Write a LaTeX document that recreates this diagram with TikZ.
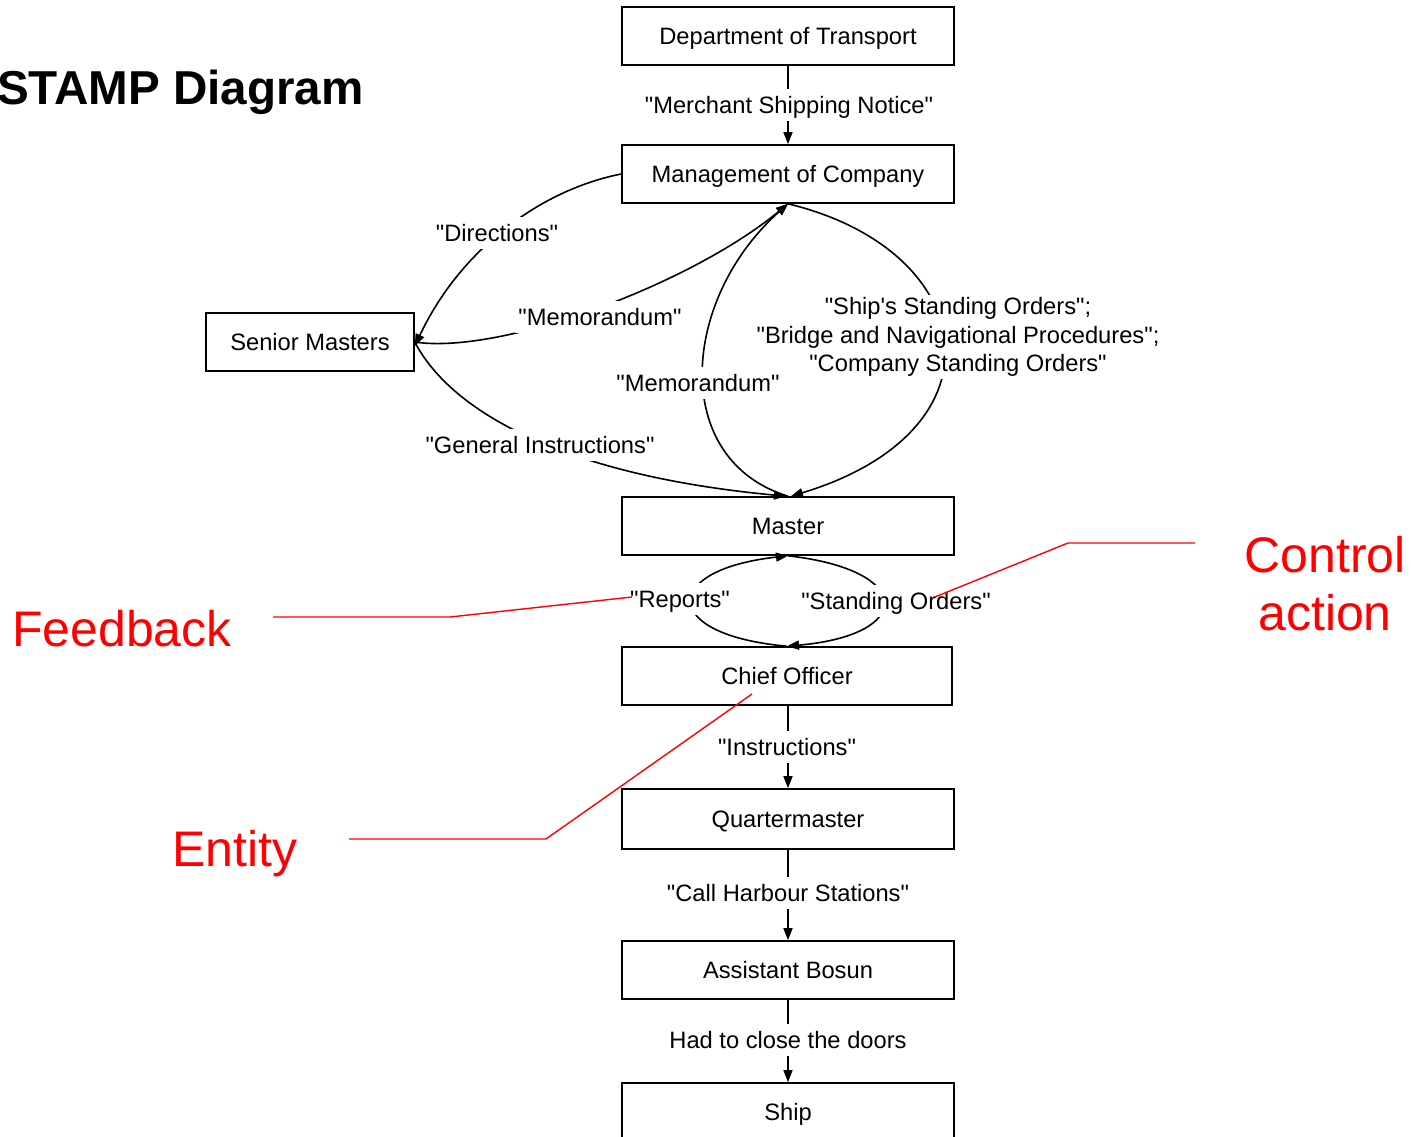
\documentclass[tikz,border=0pt]{standalone}
\usepackage{fontspec}
\newfontfamily\arial{Liberation Sans}
\usetikzlibrary{arrows.meta}
\begin{document}
\begin{tikzpicture}[x=1pt,y=-1pt,
  box/.style={draw, line width=1.6pt, minimum width=332pt, minimum height=58pt, inner sep=0pt,
    font=\arial\fontsize{23.7}{28}\selectfont, text height=21pt, text depth=4.5pt},
  lbl/.style={fill=white, inner sep=3pt, font=\arial\fontsize{23.7}{28}\selectfont, text height=21pt, text depth=4.5pt},
  conn/.style={line width=1.6pt, -{Triangle[length=12pt,width=9pt]}},
  redl/.style={red, line width=1.4pt},
  redtxt/.style={red, font=\arial\fontsize{50}{58}\selectfont, inner sep=0pt}]
\useasboundingbox (0,0) rectangle (1417,1137);
\fill[white] (0,0) rectangle (1417,1137);

% title
\node[anchor=base east, inner sep=0pt, font=\arial\fontsize{47.6}{55}\selectfont\bfseries] (title) at (364,105) {STAMP Diagram};

% boxes
\node[box] (dot) at (788,36) {Department of Transport};
\node[box] (mgmt) at (788,174) {Management of Company};
\node[box, minimum width=208pt] (sm) at (310,342) {Senior Masters};
\node[box] (master) at (788,526) {Master};
\node[box, minimum width=330pt] (chief) at (787,676) {Chief Officer};
\node[box, minimum height=60pt] (qm) at (788,819) {Quartermaster};
\node[box] (ab) at (788,970) {Assistant Bosun};
\node[box] (ship) at (788,1112) {Ship};

% straight connectors
\draw[conn] (dot.south) -- (mgmt.north);
\draw[conn] (chief.south -| qm.north) -- (qm.north);
\draw[conn] (qm.south) -- (ab.north);
\draw[conn] (ab.south) -- (ship.north);

% curved connectors
\draw[conn] (mgmt.west) .. controls (540,190) and (460,250) .. ([yshift=-4pt]sm.east);
\draw[conn] (sm.east) .. controls (500,355) and (690,285) .. (mgmt.south);
\draw[conn] (master.north) .. controls (670,460) and (680,300) .. (mgmt.south);
\draw[conn] (sm.east) .. controls (450,410) and (560,475) .. ([xshift=-2pt]master.north);
\draw[conn] (mgmt.south) .. controls (980,250) and (1010,430) .. ([xshift=3pt]master.north);
\draw[conn] (chief.north) .. controls (660,635) and (660,570) .. (master.south);
\draw[conn] (master.south) .. controls (915,570) and (915,635) .. (chief.north);

% labels
\node[fill=white, inner sep=2pt, align=center, font=\arial\fontsize{23.7}{28.5}\selectfont] (l6) at (958,337)
  {"Ship's Standing Orders";\\"Bridge and Navigational Procedures";\\"Company Standing Orders"};
\node[lbl] (l1) at (789,105) {"Merchant Shipping Notice"};
\node[lbl] (l2) at (497,233) {"Directions"};
\node[lbl] (l3) at (600,317) {"Memorandum"};
\node[lbl] (l4) at (698,383) {"Memorandum"};
\node[lbl] (l5) at (540,445) {"General Instructions"};
\node[lbl] (l7) at (680,599) {"Reports"};
\node[lbl] (l8) at (896,601) {"Standing Orders"};
\node[lbl] (l9) at (787,747) {"Instructions"};
\node[lbl] (l10) at (788,893) {"Call Harbour Stations"};
\node[lbl] (l11) at (788,1040) {Had to close the doors};

% red annotations
\node[redtxt, anchor=base] (fb) at (122,646) {Feedback};
\node[redtxt, anchor=base] (ca1) at (1325,572) {Control};
\node[redtxt, anchor=base] (ca2) at (1325,630) {action};
\node[redtxt, anchor=base] (en) at (235,866) {Entity};
\coordinate (fbend) at (632,597);
\coordinate (caend) at (935,597);
\coordinate (enend) at (752,694);
\draw[redl] (273,617) -- (450,617) -- (fbend);
\draw[redl] (1195,543) -- (1068,543) -- (caend);
\draw[redl] (349,839) -- (546,839) -- (enend);
\end{tikzpicture}
\end{document}
